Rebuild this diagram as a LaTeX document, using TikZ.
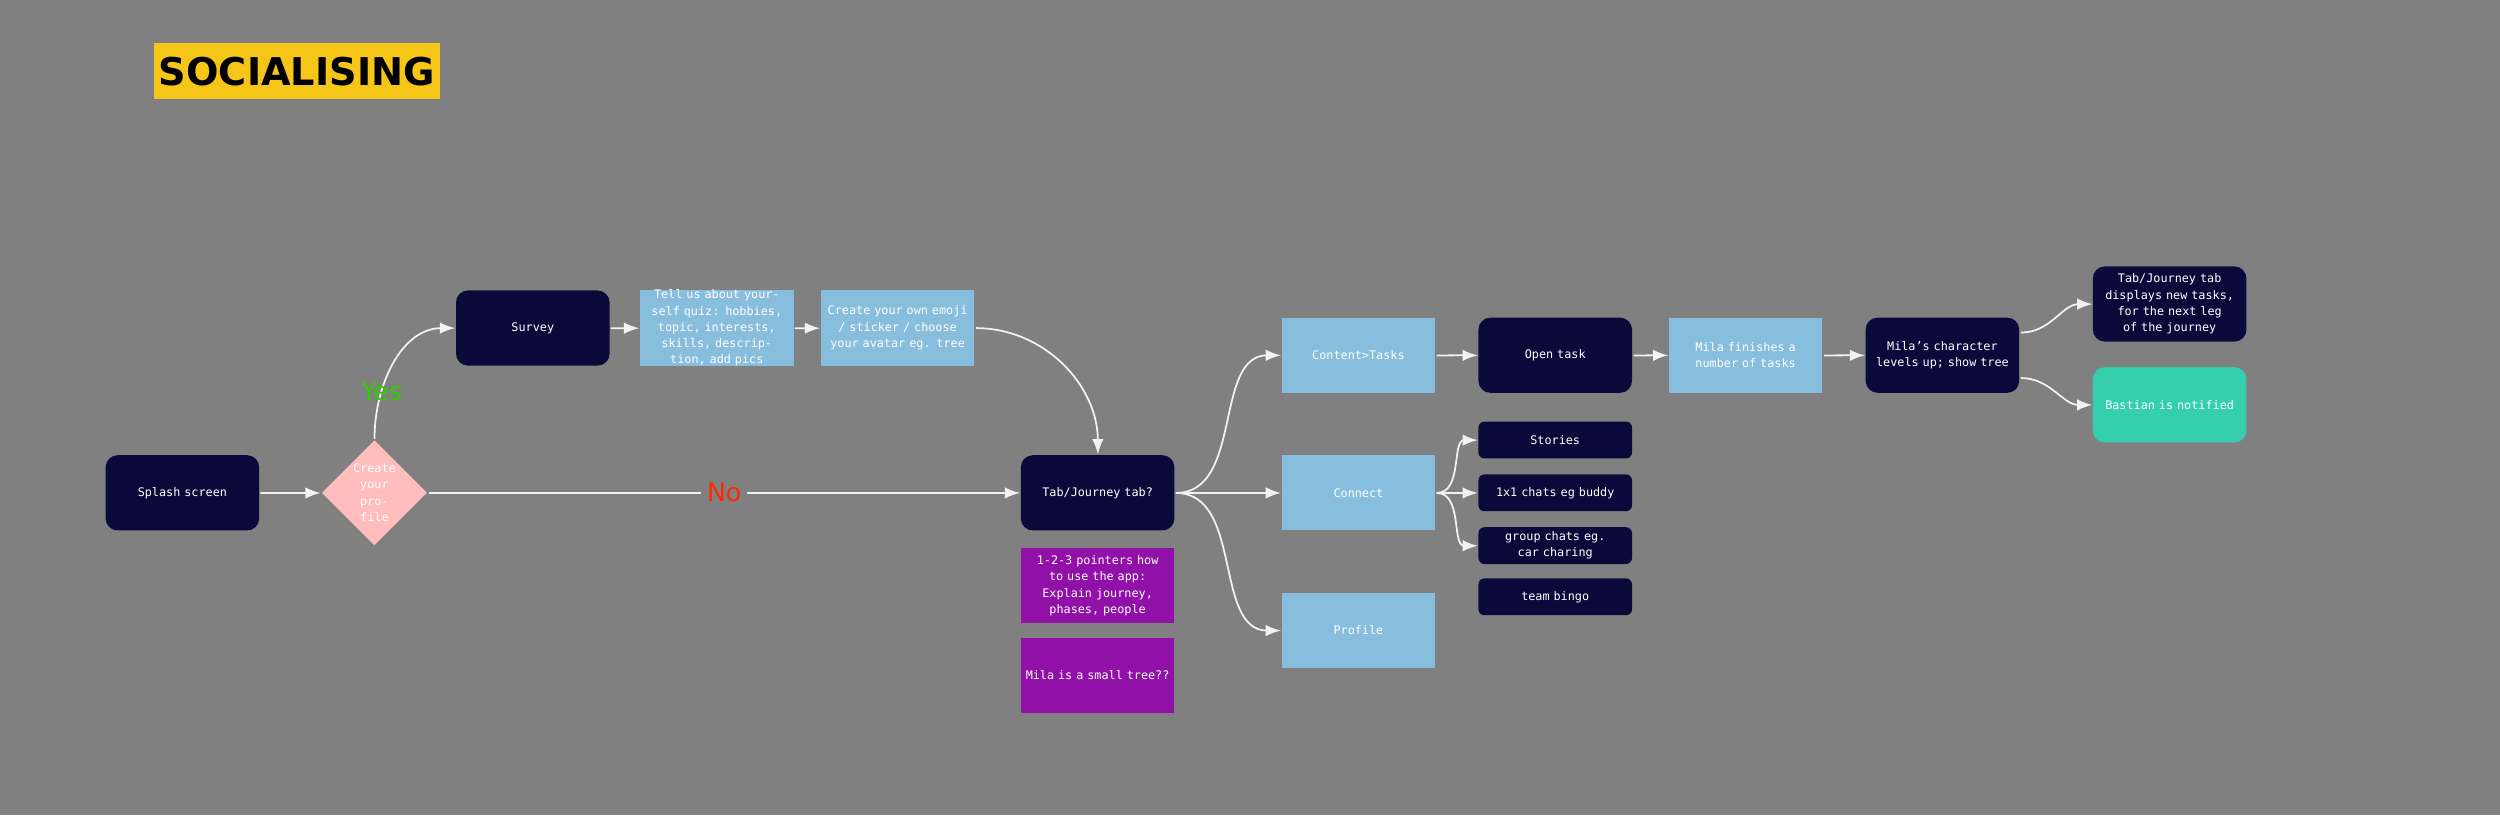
\documentclass[tikz,border=0pt]{standalone}
\usepackage{fontspec}
\setmainfont{DejaVu Sans Mono}
\newfontfamily\titlefont{DejaVu Sans}
\usetikzlibrary{shapes.geometric}
\definecolor{bggray}{HTML}{808080}
\definecolor{navy}{HTML}{0A0A3A}
\definecolor{skyblue}{HTML}{88BEDD}
\definecolor{plum}{HTML}{9010A8}
\definecolor{teal}{HTML}{36CFAE}
\definecolor{pinkish}{HTML}{FFBDBD}
\definecolor{gold}{HTML}{F5C518}
\tikzset{
  box/.style={minimum width=0.96cm, minimum height=0.47cm, text width=0.9cm, align=center,
    text=white, font=\fontsize{2.1}{2.9}\selectfont, inner sep=0pt},
  dark/.style={box, fill=navy, rounded corners=1.2mm},
  small/.style={dark, minimum height=0.23cm, rounded corners=0.6mm},
  light/.style={box, fill=skyblue},
  violet/.style={box, fill=plum},
  link/.style={draw=white!90!gray, line width=0.5pt, -latex},
}
\begin{document}
\begin{tikzpicture}[scale=1.6, every node/.append style={transform shape}]
  \fill[bggray] (0,0) rectangle (15.625,-5.094);
  \useasboundingbox (0,0) rectangle (15.625,-5.094);
  \node[fill=gold, minimum width=1.79cm, minimum height=0.35cm, inner sep=0pt, font=\titlefont\bfseries\fontsize{6.8}{6.8}\selectfont] (title) at (1.855,-0.445) {SOCIALISING};
  % main row
  \node[dark] (splash) at (1.14,-3.08) {Splash screen};
  \node[diamond, fill=pinkish, minimum width=0.66cm, minimum height=0.66cm, inner sep=0pt, text width=0.3cm, align=center, text=white, font=\fontsize{2.1}{2.9}\selectfont] (profq) at (2.34,-3.08) {Create your profile};
  \node[dark] (survey) at (3.33,-2.05) {Survey};
  \node[light] (quiz) at (4.48,-2.05) {Tell us about yourself quiz: hobbies, topic, interests, skills, description, add pics};
  \node[light] (emoji) at (5.61,-2.05) {Create your own emoji / sticker / choose your avatar eg. tree};
  \node[dark] (tab) at (6.86,-3.08) {Tab/Journey tab?};
  \node[violet] (pointers) at (6.86,-3.66) {1-2-3 pointers how to use the app: Explain journey, phases, people};
  \node[violet] (smalltree) at (6.86,-4.22) {Mila is a small tree??};
  % second column
  \node[light] (content) at (8.49,-2.22) {Content>Tasks};
  \node[light] (connect) at (8.49,-3.08) {Connect};
  \node[light] (prof) at (8.49,-3.94) {Profile};
  \node[small] (stories) at (9.72,-2.75) {Stories};
  \node[small] (chats) at (9.72,-3.08) {1x1 chats eg buddy};
  \node[small] (group) at (9.72,-3.41) {group chats eg. car charing};
  \node[small] (bingo) at (9.72,-3.73) {team bingo};
  \node[dark] (open) at (9.72,-2.22) {Open task};
  \node[light] (finish) at (10.91,-2.22) {Mila finishes a number of tasks};
  \node[dark] (levels) at (12.14,-2.22) {Mila's character levels up; show tree};
  \node[dark] (newtasks) at (13.56,-1.90) {Tab/Journey tab displays new tasks, for the next leg of the journey};
  \node[dark, fill=teal] (notified) at (13.56,-2.53) {Bastian is notified};
  % connectors
  \draw[link] (splash) -- (profq);
  \draw[link] (profq.north) to[out=90, in=180] node[pos=0.3, text=green!60!olive, font=\titlefont\fontsize{4.5}{4.5}\selectfont] {Yes} (survey.west);
  \draw[link] (profq.east) -- node[fill=bggray, inner sep=1pt, text=red!70!orange, font=\titlefont\fontsize{4.5}{4.5}\selectfont] {No} (tab.west);
  \draw[link] (survey) -- (quiz);
  \draw[link] (quiz) -- (emoji);
  \draw[link] (emoji.east) to[out=0, in=90] (tab.north);
  \draw[link] (tab.east) to[out=0, in=180] (content.west);
  \draw[link] (tab.east) -- (connect.west);
  \draw[link] (tab.east) to[out=0, in=180] (prof.west);
  \draw[link] (connect.east) to[out=0, in=180] (stories.west);
  \draw[link] (connect.east) -- (chats.west);
  \draw[link] (connect.east) to[out=0, in=180] (group.west);
  \draw[link] (content) -- (open);
  \draw[link] (open) -- (finish);
  \draw[link] (finish) -- (levels);
  \draw[link] ([yshift=-1mm]levels.north east) to[out=0, in=180] (newtasks.west);
  \draw[link] ([yshift=1mm]levels.south east) to[out=0, in=180] (notified.west);
\end{tikzpicture}
\end{document}
